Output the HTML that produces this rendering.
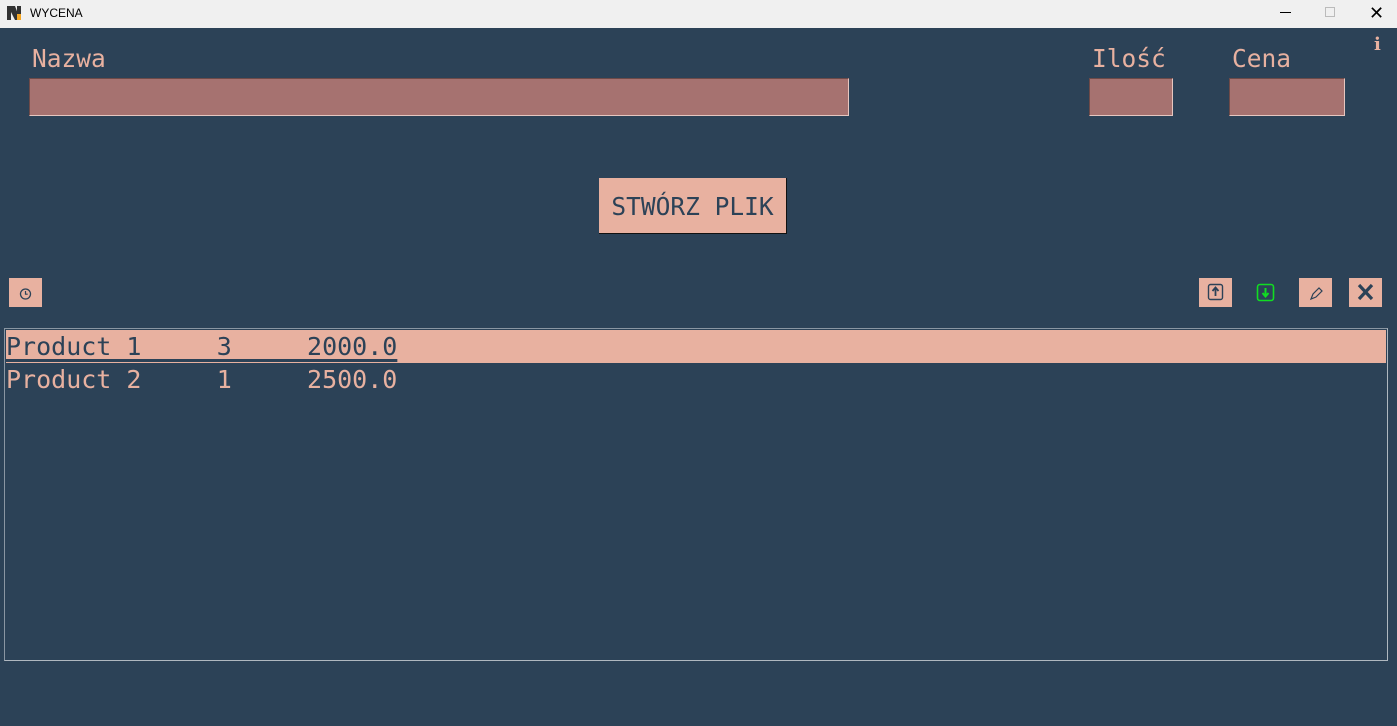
<!DOCTYPE html>
<html><head><meta charset="utf-8"><style>
*{margin:0;padding:0;box-sizing:border-box}
body{width:1397px;height:726px;background:#2c4257;position:relative;overflow:hidden;font-family:"DejaVu Sans Mono","Liberation Mono",monospace;color:#e8b1a0}
.abs{position:absolute}
#titlebar{left:0;top:0;width:1397px;height:28px;background:#f0f0f0;color:#000;font-family:"Liberation Sans",sans-serif;font-size:12px}
.lbl{font-size:24.5px;line-height:28px}
.entry{background:#a67270;border-top:1px solid #6e4a48;border-left:1px solid #6e4a48;border-bottom:1px solid #e6c6c0;border-right:1px solid #e6c6c0}
.btn{background:#e8b1a0;color:#2c4257}
</style></head><body>
<div id="titlebar" class="abs">
 <svg class="abs" style="left:7px;top:6px" width="14" height="14"><rect x="0" y="0" width="4" height="14" fill="#333"/><polygon points="4,0 8,0 11,8 11,14 8,14 4,6" fill="#333"/><rect x="10" y="0" width="4" height="8" fill="#333"/><rect x="10" y="8" width="4" height="6" fill="#f5a623"/></svg>
 <span class="abs" style="left:30px;top:6px">WYCENA</span>
 <div class="abs" style="left:1280px;top:12px;width:11px;height:1px;background:#000"></div>
 <div class="abs" style="left:1325px;top:7px;width:10px;height:10px;border:1px solid #bbb"></div>
 <span class="abs" style="left:1369px;top:3px;font-size:18px">✕</span>
</div>
<span class="abs" style="left:1374px;top:34px;font-family:'DejaVu Serif',serif;font-weight:bold;font-size:18px;color:#e8b1a0">i</span>

<div class="abs lbl" style="left:32px;top:45px">Nazwa</div>
<div class="abs entry" style="left:29px;top:78px;width:820px;height:38px"></div>
<div class="abs lbl" style="left:1092px;top:45px">Ilość</div>
<div class="abs entry" style="left:1089px;top:78px;width:84px;height:38px"></div>
<div class="abs lbl" style="left:1232px;top:45px">Cena</div>
<div class="abs entry" style="left:1229px;top:78px;width:116px;height:38px"></div>

<div class="abs btn lbl" style="left:599px;top:178px;width:188px;height:56px;line-height:58px;text-align:center;border-right:1px solid #111;border-bottom:1px solid #111">STWÓRZ PLIK</div>

<div class="abs btn" style="left:9px;top:278px;width:33px;height:29px">
 <svg width="33" height="29"><circle cx="16.5" cy="16" r="5" fill="none" stroke="#2c4257" stroke-width="1.3"/><path d="M16.5 13v3.2h2.2" fill="none" stroke="#2c4257" stroke-width="1.2"/></svg></div>
<div class="abs btn" style="left:1199px;top:278px;width:33px;height:29px">
 <svg width="33" height="29"><rect x="9.5" y="6.5" width="14" height="15" rx="2" fill="none" stroke="#2c4257" stroke-width="1.4"/><path d="M16.5 18V10M13.5 13l3-3.5 3 3.5" fill="none" stroke="#2c4257" stroke-width="1.8"/></svg></div>
<div class="abs" style="left:1250px;top:278px;width:33px;height:29px">
 <svg width="33" height="29"><rect x="7.5" y="6.5" width="16" height="16" rx="2.5" fill="none" stroke="#11dd22" stroke-width="1.6"/><path d="M15.5 10v8M12.5 15l3 3.5 3-3.5" fill="none" stroke="#11dd22" stroke-width="2"/></svg></div>
<div class="abs btn" style="left:1299px;top:278px;width:33px;height:29px">
 <svg width="33" height="29"><path d="M12 21l2-5 6-6 3 3-6 6z" fill="none" stroke="#2c4257" stroke-width="1.2"/></svg></div>
<div class="abs btn" style="left:1349px;top:278px;width:33px;height:29px">
 <svg width="33" height="29"><path d="M10 7l13 14M23 7L10 21" stroke="#2c4257" stroke-width="3.2"/></svg></div>

<div class="abs" style="left:4px;top:328px;width:1384px;height:333px;border:1px solid #8a96a2;border-right-color:#b0b8c0;border-bottom-color:#b0b8c0">
 <div class="abs" style="left:1px;top:1px;width:1380px;height:33px;background:#e8b1a0"></div>
 <div class="abs" style="left:1px;top:3px;font-size:25px;line-height:30px;white-space:pre;color:#2c4257;text-decoration:underline;text-decoration-thickness:3px;text-underline-offset:4px">Product 1     3     2000.0</div>
 <div class="abs" style="left:1px;top:36px;font-size:25px;line-height:30px;white-space:pre;color:#e8b1a0">Product 2     1     2500.0</div>
</div>
</body></html>
